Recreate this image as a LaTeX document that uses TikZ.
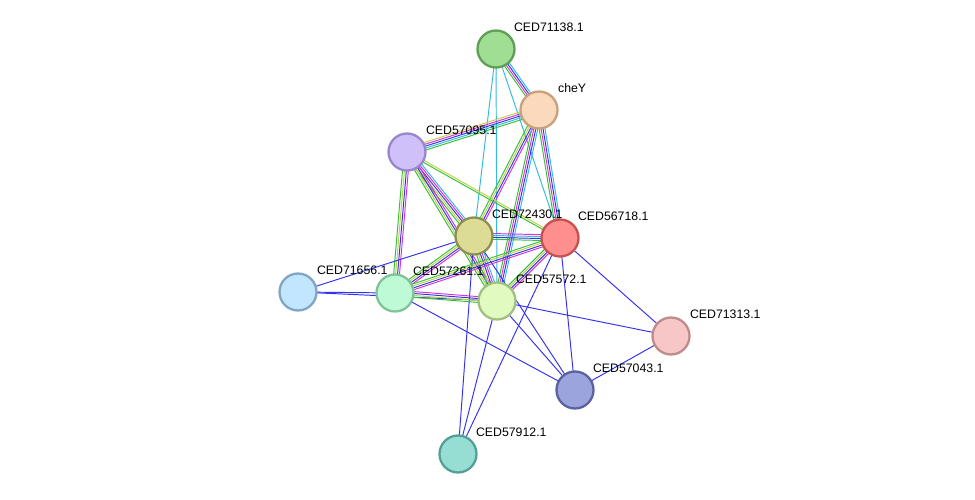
\documentclass[tikz,border=0pt]{standalone}
\usepackage{fontspec}
\setmainfont{Liberation Sans}
\usetikzlibrary{calc,backgrounds}

\definecolor{lgreen}{HTML}{33C233}
\definecolor{lmag}{HTML}{D633D6}
\definecolor{lblue}{HTML}{3333EE}
\definecolor{lcyan}{HTML}{33BBDD}
\definecolor{lyel}{HTML}{BFD04A}

\definecolor{f71138}{HTML}{A0DE94}\definecolor{d71138}{HTML}{5E9E55}
\definecolor{fcheY}{HTML}{FBD9BC}\definecolor{dcheY}{HTML}{C9A07A}
\definecolor{f57095}{HTML}{CFC0FA}\definecolor{d57095}{HTML}{9A85CF}
\definecolor{f72430}{HTML}{DCDC96}\definecolor{d72430}{HTML}{8F8F50}
\definecolor{f56718}{HTML}{FF8F8F}\definecolor{d56718}{HTML}{C75050}
\definecolor{f71656}{HTML}{C2E6FF}\definecolor{d71656}{HTML}{80A6C0}
\definecolor{f57261}{HTML}{BFFAD6}\definecolor{d57261}{HTML}{7FC497}
\definecolor{f57572}{HTML}{E0FAC0}\definecolor{d57572}{HTML}{A0C080}
\definecolor{f71313}{HTML}{F7C7C7}\definecolor{d71313}{HTML}{C08A8A}
\definecolor{f57043}{HTML}{9CA4DE}\definecolor{d57043}{HTML}{5A62A0}
\definecolor{f57912}{HTML}{96DDD3}\definecolor{d57912}{HTML}{55A096}

\tikzset{
  prot/.style={circle, draw=d#1, fill=f#1, line width=1.3pt, minimum size=0.74cm, inner sep=0pt},
  lab/.style={font=\fontsize{7}{8}\selectfont, inner sep=1pt, anchor=south west}
}

\newcommand\linkmulti[3]{%
  \foreach \c [count=\n] in {#3} {\xdef\nlinks{\n}}%
  \foreach \c [count=\i] in {#3} {
    \pgfmathsetmacro\off{(\i-(\nlinks+1)/2)*1.1}
    \draw[\c, line width=0.55pt] ($(#1)!\off pt!90:(#2)$) -- ($(#2)!\off pt!-90:(#1)$);
  }}

\begin{document}
\begin{tikzpicture}[x=0.02cm, y=-0.02cm]
  \useasboundingbox (0,0) rectangle (975,500);

  % Proteins
  \node[prot=71138] (P71138) at (496,49) {};
  \node[prot=cheY] (PcheY) at (539,110) {};
  \node[prot=57095] (P57095) at (407,152) {};
  \node[prot=72430] (P72430) at (474,236) {};
  \node[prot=56718] (P56718) at (560,238) {};
  \node[prot=71656] (P71656) at (298,292) {};
  \node[prot=57261] (P57261) at (395,293) {};
  \node[prot=57572] (P57572) at (497,301) {};
  \node[prot=71313] (P71313) at (671,336) {};
  \node[prot=57043] (P57043) at (575,390) {};
  \node[prot=57912] (P57912) at (458,454) {};

  % Labels
  \node[lab] (L71138) at (512,34) {CED71138.1};
  \node[lab] (LcheY) at (556,95) {cheY};
  \node[lab] (L57095) at (424,137) {CED57095.1};
  \node[lab] (L72430) at (490,221) {CED72430.1};
  \node[lab] (L56718) at (576,223) {CED56718.1};
  \node[lab] (L71656) at (315,277) {CED71656.1};
  \node[lab] (L57261) at (411,278) {CED57261.1};
  \node[lab] (L57572) at (514,286) {CED57572.1};
  \node[lab] (L71313) at (688,321) {CED71313.1};
  \node[lab] (L57043) at (591,375) {CED57043.1};
  \node[lab] (L57912) at (474,439) {CED57912.1};

  % Links
  \begin{scope}[on background layer]
    \linkmulti{P71138}{PcheY}{lgreen,lmag,lblue,lcyan}
    \linkmulti{P71138}{P72430}{lcyan}
    \linkmulti{P71138}{P57572}{lcyan}
    \linkmulti{P71138}{P56718}{lcyan}
    \linkmulti{PcheY}{P57095}{lyel,lmag,lblue,lcyan,lgreen}
    \linkmulti{PcheY}{P72430}{lgreen,lyel,lblue,lmag}
    \linkmulti{PcheY}{P56718}{lgreen,lmag,lblue,lcyan}
    \linkmulti{PcheY}{P57572}{lgreen,lmag,lblue,lcyan}
    \linkmulti{P57095}{P72430}{lgreen,lyel,lblue,lmag,lcyan}
    \linkmulti{P57095}{P57261}{lgreen,lyel,lblue,lmag}
    \linkmulti{P57095}{P57572}{lgreen,lyel,lblue,lmag}
    \linkmulti{P57095}{P56718}{lgreen,lyel}
    \linkmulti{P72430}{P56718}{lgreen,lblue,lcyan,lmag}
    \linkmulti{P72430}{P57261}{lgreen,lyel,lblue,lmag}
    \linkmulti{P72430}{P57572}{lgreen,lyel,lblue,lmag,lcyan}
    \linkmulti{P72430}{P71656}{lblue}
    \linkmulti{P72430}{P57043}{lblue}
    \linkmulti{P72430}{P57912}{lblue}
    \linkmulti{P56718}{P57261}{lgreen,lyel,lblue,lmag}
    \linkmulti{P56718}{P57572}{lgreen,lyel,lblue,lmag}
    \linkmulti{P56718}{P71313}{lblue}
    \linkmulti{P56718}{P57043}{lblue}
    \linkmulti{P56718}{P57912}{lblue}
    \linkmulti{P71656}{P57261}{lblue}
    \linkmulti{P71656}{P57572}{lblue}
    \linkmulti{P57261}{P57572}{lgreen,lyel,lblue,lmag}
    \linkmulti{P57261}{P57043}{lblue}
    \linkmulti{P57572}{P57043}{lblue}
    \linkmulti{P57572}{P71313}{lblue}
    \linkmulti{P57572}{P57912}{lblue}
    \linkmulti{P57043}{P71313}{lblue}
  \end{scope}
\end{tikzpicture}
\end{document}
